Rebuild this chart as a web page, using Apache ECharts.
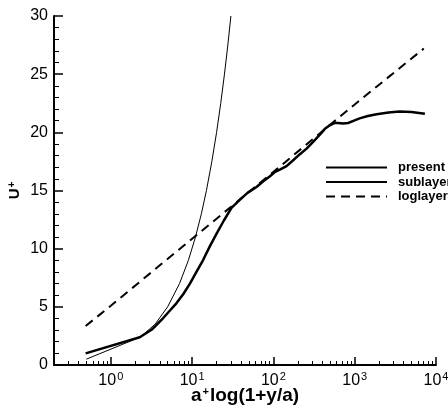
<!DOCTYPE html>
<html>
<head>
<meta charset="utf-8">
<script src="https://cdn.jsdelivr.net/npm/echarts@6/dist/echarts.min.js"></script>
<style>
html,body{margin:0;padding:0;background:#fff;}
#c{width:448px;height:408px;}
</style>
</head>
<body>
<div id="c"></div>
<script>
// ---- data ----
var seriesNames = ['present', 'sublayer', 'loglayer'];
var presentData = [[0.49,1.0],[2.27,2.38],[3.2,3.05],[4.2,3.87],[5.2,4.6],[6.4,5.3],[7.8,6.1],[9.4,7.0],[11.3,8.0],[13.6,9.0],[16.5,10.2],[20,11.3],[24.5,12.4],[30.5,13.5],[38.6,14.2],[48,14.8],[62,15.3],[75,15.8],[90,16.2],[105,16.6],[120,16.8],[145,17.1],[175,17.6],[210,18.1],[256,18.6],[310,19.2],[373,19.8],[430,20.3],[494,20.6],[560,20.8],[626,20.8],[720,20.75],[830,20.8],[980,21.0],[1150,21.2],[1450,21.4],[1860,21.55],[2600,21.7],[3560,21.8],[5000,21.75],[7300,21.6]];
var sublayerData = [[0.5,0.5],[2.3,2.4],[3.5,3.5],[5,5],[7,7],[9,9],[11,11],[13,13],[15,15],[17.5,17.5],[20,20],[22.5,22.5],[25,25],[27.5,27.5],[30,30]];
var loglayerData = [[0.49,3.35],[1,5.1],[10,10.85],[100,16.6],[1000,22.4],[7080,27.2]];
var xMajorTicks = [1, 10, 100, 1000, 10000];
var xMinorTicks = [0.3,0.4,0.5,0.6,0.7,0.8,0.9,2,3,4,5,6,7,8,9,20,30,40,50,60,70,80,90,200,300,400,500,600,700,800,900,2000,3000,4000,5000,6000,7000,8000,9000];
var yTicks = [0, 5, 10, 15, 20, 25, 30];

var FONT = '"Liberation Sans", Arial, Helvetica, sans-serif';
var chart = echarts.init(document.getElementById('c'));
var option = {
  animation: false,
  backgroundColor: '#ffffff',
  grid: {left: 54, right: 12, top: 16, bottom: 43, containLabel: false, outerBoundsMode: 'none'},
  legend: {
    orient: 'vertical',
    left: 325,
    top: 161,
    itemWidth: 61,
    itemHeight: 14,
    itemGap: 1.5,
    padding: 0,
    data: seriesNames,
    itemStyle: {opacity: 0},
    textStyle: {fontFamily: FONT, fontWeight: 'bold', fontSize: 13, color: '#000', padding: [0,0,0,6]}
  },
  xAxis: [{
    type: 'log', logBase: 10, min: 0.2, max: 10000, position: 'bottom',
    name: '{a|a}{s|+}{a|log(1+y/a)}', nameLocation: 'middle', nameGap: 21, nameMoveOverlap: false,
    nameTextStyle: {fontFamily: FONT, fontWeight: 'bold', fontSize: 19, color: '#000',
      rich: {a: {fontFamily: FONT, fontWeight: 'bold', fontSize: 19, color: '#000'},
             s: {fontFamily: FONT, fontWeight: 'bold', fontSize: 11, color: '#000', verticalAlign: 'top', padding: [0,1,8,1]}}},
    axisLine: {show: true, lineStyle: {color: '#000', width: 2}},
    axisTick: {show: true, inside: true, length: 8, customValues: xMajorTicks, lineStyle: {color: '#000', width: 1.5}},
    minorTick: {show: false},
    splitLine: {show: false},
    axisLabel: {
      customValues: xMajorTicks, margin: 6,
      formatter: function (v) { return '{b|10}{s|' + Math.round(Math.log(v) / Math.LN10) + '}'; },
      rich: {b: {fontFamily: FONT, fontSize: 16, color: '#000'},
             s: {fontFamily: FONT, fontSize: 11, color: '#000', verticalAlign: 'top', padding: [0,0,8,1]}}
    }
  }, {
    type: 'log', logBase: 10, min: 0.2, max: 10000, position: 'bottom', offset: 0,
    axisLine: {show: false},
    axisTick: {show: true, inside: true, length: 4, customValues: xMinorTicks, lineStyle: {color: '#000', width: 1}},
    axisLabel: {show: false},
    splitLine: {show: false}
  }],
  yAxis: {
    type: 'value', min: 0, max: 30, interval: 5,
    name: '{u|U}{s|+}', nameLocation: 'middle', nameGap: 31, nameMoveOverlap: false,
    nameTextStyle: {rich: {u: {fontFamily: FONT, fontWeight: 'bold', fontSize: 15, color: '#000'},
                           s: {fontFamily: FONT, fontWeight: 'bold', fontSize: 10, color: '#000', verticalAlign: 'top', padding: [0,0,6,1]}}},
    axisLine: {show: true, lineStyle: {color: '#000', width: 2}},
    axisTick: {show: true, inside: true, length: 9, lineStyle: {color: '#000', width: 1.5}},
    minorTick: {show: true, splitNumber: 5, length: 5, lineStyle: {color: '#000', width: 1}},
    splitLine: {show: false},
    axisLabel: {fontFamily: FONT, fontSize: 16, color: '#000', margin: 6,
      customValues: yTicks}
  },
  series: [{
    name: 'present', type: 'line', data: presentData, xAxisIndex: 0,
    symbol: 'none', showSymbol: false,
    lineStyle: {color: '#000', width: 2.5}, itemStyle: {color: '#000'}
  }, {
    name: 'sublayer', type: 'line', data: sublayerData, xAxisIndex: 0,
    symbol: 'none', showSymbol: false,
    lineStyle: {color: '#000', width: 1}, itemStyle: {color: '#000'}
  }, {
    name: 'loglayer', type: 'line', data: loglayerData, xAxisIndex: 0,
    symbol: 'none', showSymbol: false,
    lineStyle: {color: '#000', width: 2, type: [9, 6]}, itemStyle: {color: '#000'}
  }]
};
chart.setOption(option);
</script>
</body>
</html>
